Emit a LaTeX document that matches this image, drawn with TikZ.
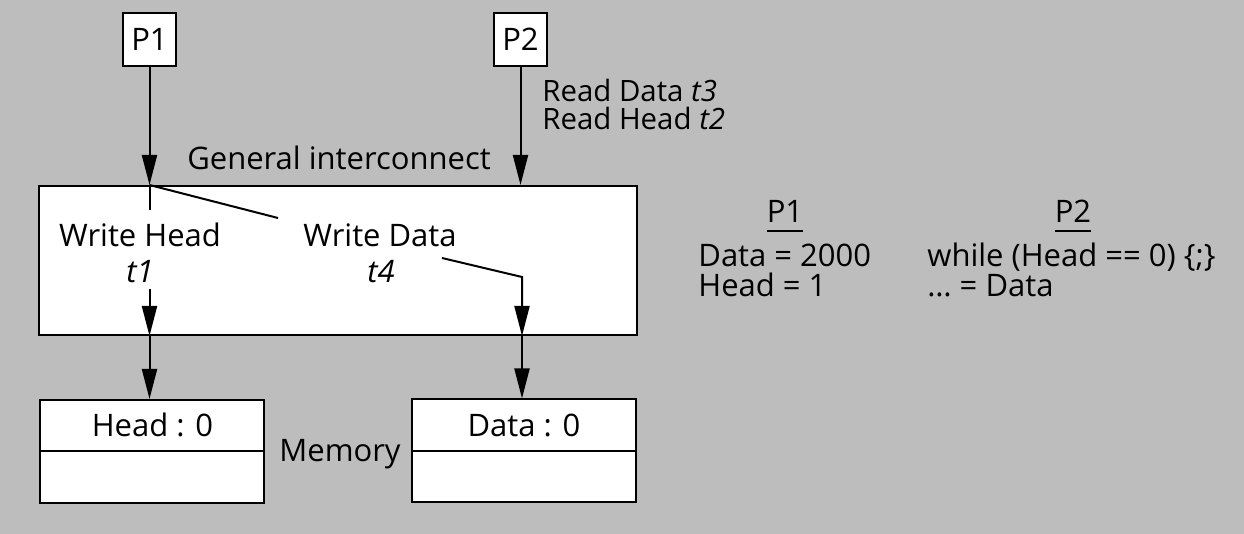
\documentclass[tikz,border=0pt]{standalone}
\usepackage{fontspec}
\setmainfont{Open Sans}
\usetikzlibrary{arrows.meta,positioning}

\definecolor{paper}{gray}{0.74}
% underlined column heading
\newcommand{\codehead}[1]{\setbox0\hbox{#1}\rlap{\rule[-4.5pt]{\wd0}{1pt}}\box0}

\begin{document}
\begin{tikzpicture}[x=0.5pt, y=-0.5pt,
  font=\fontsize{15.5}{18}\selectfont,
  proc/.style={draw, fill=white, line width=1pt, minimum width=26.5pt, minimum height=26.5pt, inner sep=0pt},
  netbox/.style={draw, fill=white, line width=1pt, minimum width=299pt, minimum height=74.5pt, inner sep=0pt},
  membox/.style={draw, fill=white, line width=1pt, minimum width=112pt, minimum height=51.5pt, inner sep=0pt},
  wire/.style={line width=1pt},
  feed/.style={wire, -{Triangle[length=15pt,width=7.5pt]}},
  lbl/.style={anchor=base, inner sep=0pt},
  lbll/.style={anchor=base west, inner sep=0pt},
  readlbl/.style={lbll, font=\fontsize{14.7}{16}\selectfont, text height=8pt, text depth=0pt}]
 % Background
 \fill[paper] (0,0) rectangle (1244,534);
 \useasboundingbox (0,0) rectangle (1244,534);
 % Processors and boxes
 \node[proc] (p1) at (149.5,39.5) {P1};
 \node[proc] (p2) at (520.5,39.5) {P2};
 \node[netbox] (net) at (338,260.5) {};
 \node[membox] (headmem) at (152,451.5) {};
 \node[membox] (datamem) at (524,451) {};
 \draw[wire] (headmem.west) -- (headmem.east);
 \draw[wire] (datamem.west) -- (datamem.east);
 % Labels
 \node[lbl] (netlbl) at (339,170) {General interconnect};
 \node[readlbl] (rddata) at (542,102) {Read Data \textit{t3}};
 \node[readlbl] (rdhead) at (542,130) {Read Head \textit{t2}};
 \node[lbl] (wrhead) at (140,247) {Write Head};
 \node[lbl] (t1) at (140,283) {\textit{t1}};
 \node[lbl] (wrdata) at (380,247) {Write Data};
 \node[lbl] (t4) at (381,283) {\textit{t4}};
 \node[lbl] (headval) at (152.5,437) {Head : 0};
 \node[lbl] (dataval) at (524,437) {Data : 0};
 \node[lbl] (memlbl) at (340,462) {Memory};
 % Connectors
 \coordinate (p1in) at (net.north -| p1.south);
 \coordinate (headtap) at (149.5,210);
 \coordinate (datatap) at (278,218);
 \coordinate (headout) at (149.5,289);
 \coordinate (datain) at (442,258);
 \coordinate (databend) at (522,277);
 \draw[feed] (p1) -- (p1in);
 \draw[feed] (p2) -- (net.north -| p2);
 \draw[wire] (p1in) -- (headtap);
 \draw[wire] (p1in) -- (datatap);
 \draw[feed] (headout) -- (headout |- net.south);
 \draw[feed] (headout |- net.south) -- (headmem.north -| headout);
 \draw[feed] (datain) -- (databend) -- (databend |- net.south);
 \draw[feed] (databend |- net.south) -- (datamem.north -| databend);
 % Code of the two processors
 \node[lbl] (code1) at (785,223) {\codehead{P1}};
 \node[lbll] (code1a) at (698,267) {Data = 2000};
 \node[lbll] (code1b) at (698,297) {Head = 1};
 \node[lbl] (code2) at (1073,223) {\codehead{P2}};
 \node[lbll] (code2a) at (927,267) {while (Head == 0) \{;\}};
 \node[lbll] (code2b) at (927,297) {\dots{} = Data};
\end{tikzpicture}
\end{document}
